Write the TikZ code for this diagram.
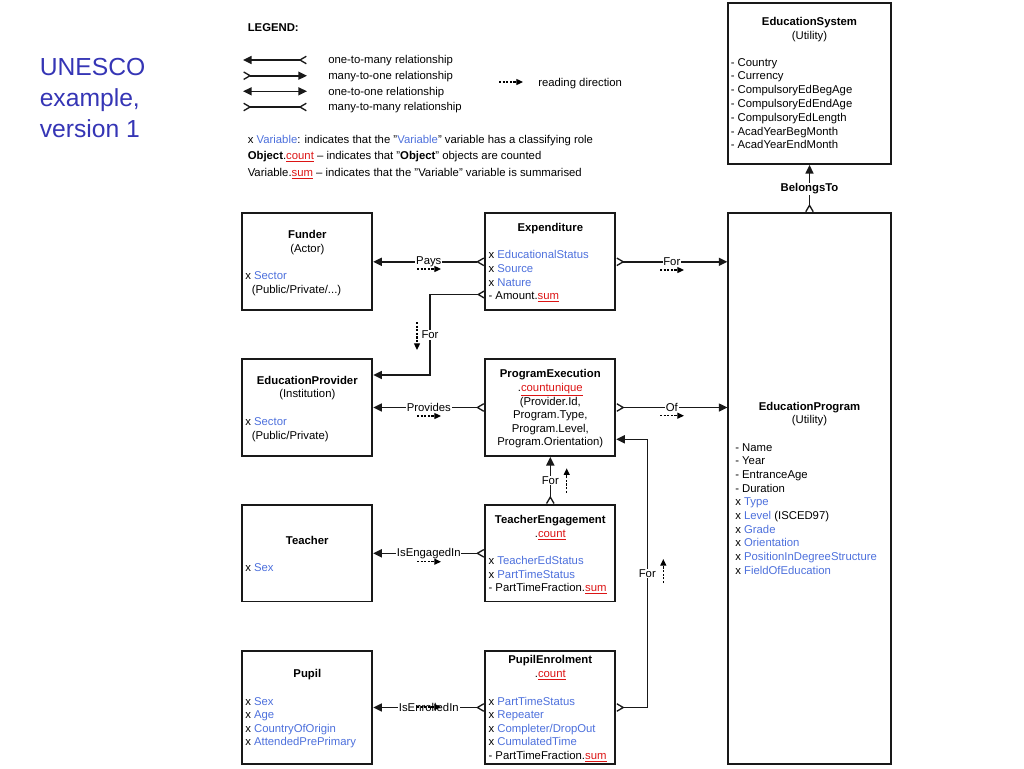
\documentclass[tikz,border=0pt]{standalone}
\usepackage{fontspec}
\setmainfont{Liberation Sans}
\usetikzlibrary{arrows.meta}
\definecolor{varblue}{RGB}{77,112,220}
\definecolor{sumred}{RGB}{220,20,20}
\definecolor{titleblue}{RGB}{53,53,181}
\newcommand\vb[1]{\textcolor{varblue}{#1}}
\newcommand\rs[1]{\textcolor{sumred}{\underline{#1}}}
\newcommand\boxfont{\fontsize{8.5}{10.5}\selectfont}
\begin{document}
\begin{tikzpicture}[x=0.75pt,y=-0.75pt,
  onetip/.tip={Triangle[length=6.5pt,width=6pt]},
  crowtip/.tip={Straight Barb[reversed,length=4.8pt,width=5.6pt,line width=1pt]},
  box/.style={draw=black!90,line width=1.3pt,inner sep=0pt},
  tx/.style={inner sep=0pt,anchor=base west,font=\boxfont},
  tc/.style={inner sep=0pt,anchor=base,font=\boxfont},
  tb/.style={inner sep=0pt,anchor=base,font=\boxfont\bfseries},
  conn/.style={draw=black!90,line width=1.2pt},
  lbl/.style={fill=white,inner sep=0.6pt,font=\boxfont},
  rd/.style={draw=black,line width=0.9pt,dash pattern=on 1.6pt off 1.1pt,-{Triangle[length=5pt,width=4.5pt]}}
]
\useasboundingbox (0,0) rectangle (1024,768);

% title
\node[inner sep=0pt,anchor=base west,font=\fontsize{18.5}{23}\selectfont,text=titleblue] (t1) at (39.5,75) {UNESCO};
\node[inner sep=0pt,anchor=base west,font=\fontsize{18.5}{23}\selectfont,text=titleblue] (t2) at (39.5,106) {example,};
\node[inner sep=0pt,anchor=base west,font=\fontsize{18.5}{23}\selectfont,text=titleblue] (t3) at (39.5,137) {version 1};

% legend
\node[tx,font=\boxfont\bfseries] (leg) at (247.5,31) {LEGEND:};
\coordinate (la1) at (243,60);   \coordinate (lb1) at (307,60);
\coordinate (la2) at (243,75.7); \coordinate (lb2) at (307,75.7);
\coordinate (la3) at (243,91.3); \coordinate (lb3) at (307,91.3);
\coordinate (la4) at (243,107);  \coordinate (lb4) at (307,107);
\draw[conn,onetip-crowtip] (la1) -- (lb1);
\draw[conn,crowtip-onetip] (la2) -- (lb2);
\draw[conn,onetip-onetip] (la3) -- (lb3);
\draw[conn,crowtip-crowtip] (la4) -- (lb4);
\node[tx] (lt1) at (328,63.5) {one-to-many relationship};
\node[tx] (lt2) at (328,79) {many-to-one relationship};
\node[tx] (lt3) at (328,95) {one-to-one relationship};
\node[tx] (lt4) at (328,110.5) {many-to-many relationship};
\coordinate (lra) at (499,82); \coordinate (lrb) at (523,82);
\draw[rd] (lra) -- (lrb);
\node[tx] (lt5) at (538,86) {reading direction};
\node[tx] (lt6) at (247.5,143.5) {x \vb{Variable}: indicates that the "\vb{Variable}" variable has a classifying role};
\node[tx] (lt7) at (247.5,159.5) {\textbf{Object}.\rs{count} -- indicates that "\textbf{Object}" objects are counted};
\node[tx] (lt8) at (247.5,176) {Variable.\rs{sum} -- indicates that the "Variable" variable is summarised};

% boxes
\node[box,minimum width=97.5pt,minimum height=72.75pt] (funder) at (307.3,261.8) {};
\node[box,minimum width=97.5pt,minimum height=72.75pt] (exp) at (550.3,261.8) {};
\node[box,minimum width=97.5pt,minimum height=72.75pt] (prov) at (307.3,407.5) {};
\node[box,minimum width=97.5pt,minimum height=72.75pt] (pe) at (550.3,407.5) {};
\node[box,minimum width=97.5pt,minimum height=72.4pt] (teacher) at (307.3,553.3) {};
\node[box,minimum width=97.5pt,minimum height=72.4pt] (te) at (550.3,553.3) {};
\node[box,minimum width=97.5pt,minimum height=84.75pt] (pupil) at (307.3,707.5) {};
\node[box,minimum width=97.5pt,minimum height=84.75pt] (pen) at (550.3,707.5) {};
\node[box,minimum width=121.8pt,minimum height=120.75pt] (es) at (809.5,83.5) {};
\node[box,minimum width=121.8pt,minimum height=413pt] (prog) at (809.5,488.6) {};

% Funder
\node[tb] (fu1) at (307.3,238) {Funder};
\node[tc] (fu2) at (307.3,252) {(Actor)};
\node[tx] (fu3) at (245,279.5) {x \vb{Sector}};
\node[tx] (fu4) at (251.5,293) {(Public/Private/...)};

% Expenditure
\node[tb] (ex1) at (550.3,231) {Expenditure};
\node[tx] (ex2) at (488.3,258.5) {x \vb{EducationalStatus}};
\node[tx] (ex3) at (488.3,272) {x \vb{Source}};
\node[tx] (ex4) at (488.3,286) {x \vb{Nature}};
\node[tx] (ex5) at (488.3,299.5) {- Amount.\rs{sum}};

% EducationProvider
\node[tb] (pr1) at (307.3,384) {EducationProvider};
\node[tc] (pr2) at (307.3,397) {(Institution)};
\node[tx] (pr3) at (245,425) {x \vb{Sector}};
\node[tx] (pr4) at (251.5,439) {(Public/Private)};

% ProgramExecution
\node[tb] (pe1) at (550.3,377) {ProgramExecution};
\node[tc] (pe2) at (550.3,391) {.\rs{countunique}};
\node[tc] (pe3) at (550.3,405) {(Provider.Id,};
\node[tc] (pe4) at (550.3,418.5) {Program.Type,};
\node[tc] (pe5) at (550.3,432) {Program.Level,};
\node[tc] (pe6) at (550.3,445.5) {Program.Orientation)};

% Teacher
\node[tb] (tea1) at (307.3,544) {Teacher};
\node[tx] (tea2) at (245,571.5) {x \vb{Sex}};

% TeacherEngagement
\node[tb] (te1) at (550.3,523) {TeacherEngagement};
\node[tc] (te2) at (550.3,537) {.\rs{count}};
\node[tx] (te3) at (488.3,564.5) {x \vb{TeacherEdStatus}};
\node[tx] (te4) at (488.3,578) {x \vb{PartTimeStatus}};
\node[tx] (te5) at (488.3,591.5) {- PartTimeFraction.\rs{sum}};

% Pupil
\node[tb] (pu1) at (307.3,677) {Pupil};
\node[tx] (pu2) at (245,705) {x \vb{Sex}};
\node[tx] (pu3) at (245,718.5) {x \vb{Age}};
\node[tx] (pu4) at (245,732) {x \vb{CountryOfOrigin}};
\node[tx] (pu5) at (245,745.5) {x \vb{AttendedPrePrimary}};

% PupilEnrolment
\node[tb] (pn1) at (550.3,663) {PupilEnrolment};
\node[tc] (pn2) at (550.3,677) {.\rs{count}};
\node[tx] (pn3) at (488.3,705) {x \vb{PartTimeStatus}};
\node[tx] (pn4) at (488.3,718.5) {x \vb{Repeater}};
\node[tx] (pn5) at (488.3,732) {x \vb{Completer/DropOut}};
\node[tx] (pn6) at (488.3,745.5) {x \vb{CumulatedTime}};
\node[tx] (pn7) at (488.3,759) {- PartTimeFraction.\rs{sum}};

% EducationSystem
\node[tb] (es1) at (809.5,25.5) {EducationSystem};
\node[tc] (es2) at (809.5,39) {(Utility)};
\foreach \t [count=\i from 0] in {Country,Currency,CompulsoryEdBegAge,CompulsoryEdEndAge,CompulsoryEdLength,AcadYearBegMonth,AcadYearEndMonth}
  \node[tx] (esl\i) at (730.5,66+\i*13.8) {- \t};

% EducationProgram
\node[tb] (ep1) at (809.5,410) {EducationProgram};
\node[tc] (ep2) at (809.5,423.5) {(Utility)};
\node[tx] (ep3) at (735,451) {- Name};
\node[tx] (ep4) at (735,464.7) {- Year};
\node[tx] (ep5) at (735,478.4) {- EntranceAge};
\node[tx] (ep6) at (735,492.1) {- Duration};
\node[tx] (ep7) at (735,505.8) {x \vb{Type}};
\node[tx] (ep8) at (735,519.5) {x \vb{Level} (ISCED97)};
\node[tx] (ep9) at (735,533.2) {x \vb{Grade}};
\node[tx] (ep10) at (735,546.9) {x \vb{Orientation}};
\node[tx] (ep11) at (735,560.6) {x \vb{PositionInDegreeStructure}};
\node[tx] (ep12) at (735,574.3) {x \vb{FieldOfEducation}};

% connectors
\draw[conn,onetip-crowtip] (funder.east) -- node[lbl] (lpays) {Pays} (exp.west);
\draw[conn,crowtip-onetip] (exp.east) -- node[lbl] (lfor1) {For} (exp.east -| prog.west);
\coordinate (efs) at (485.3,294.5);
\coordinate (ef1) at (430,294.5);
\coordinate (ef2) at (430,375);
\draw[conn,crowtip-onetip] (efs) -- (ef1) -- node[lbl] (lfor2) {For} (ef2) -- (ef2 -| prov.east);
\draw[conn,onetip-crowtip] (prov.east) -- node[lbl] (lprov) {Provides} (pe.west);
\draw[conn,crowtip-onetip] (pe.east) -- node[lbl] (lof) {Of} (pe.east -| prog.west);
\draw[conn,crowtip-onetip] (te.north) -- node[lbl] (lfor3) {For} (pe.south);
\draw[conn,onetip-crowtip] (teacher.east) -- node[lbl] (leng) {IsEngagedIn} (te.west);
\coordinate (pf1) at (647.3,707.5);
\coordinate (pf2) at (647.3,439.3);
\draw[conn,crowtip-onetip] (pen.east) -- (pf1) -- node[lbl] (lfor4) {For} (pf2) -- (pf2 -| pe.east);
\draw[conn,onetip-crowtip] (pupil.east) -- node[lbl] (lenr) {IsEnrolledIn} (pen.west);
\draw[conn,crowtip-onetip] (prog.north) -- node[lbl,font=\boxfont\bfseries] (lbel) {BelongsTo} (es.south);

% reading direction arrows
\coordinate (r1a) at (417,269);   \coordinate (r1b) at (441,269);
\coordinate (r2a) at (417,322);   \coordinate (r2b) at (417,350);
\coordinate (r3a) at (660,270);   \coordinate (r3b) at (684,270);
\coordinate (r4a) at (417,416);   \coordinate (r4b) at (441,416);
\coordinate (r5a) at (660,415.7); \coordinate (r5b) at (684,415.7);
\coordinate (r6a) at (566.7,492.7); \coordinate (r6b) at (566.7,468.3);
\coordinate (r7a) at (417,561.7); \coordinate (r7b) at (441,561.7);
\coordinate (r8a) at (663.3,583); \coordinate (r8b) at (663.3,559);
\coordinate (r9a) at (417,707);   \coordinate (r9b) at (441,707);
\foreach \i in {1,...,9} \draw[rd] (r\i a) -- (r\i b);
\end{tikzpicture}
\end{document}
